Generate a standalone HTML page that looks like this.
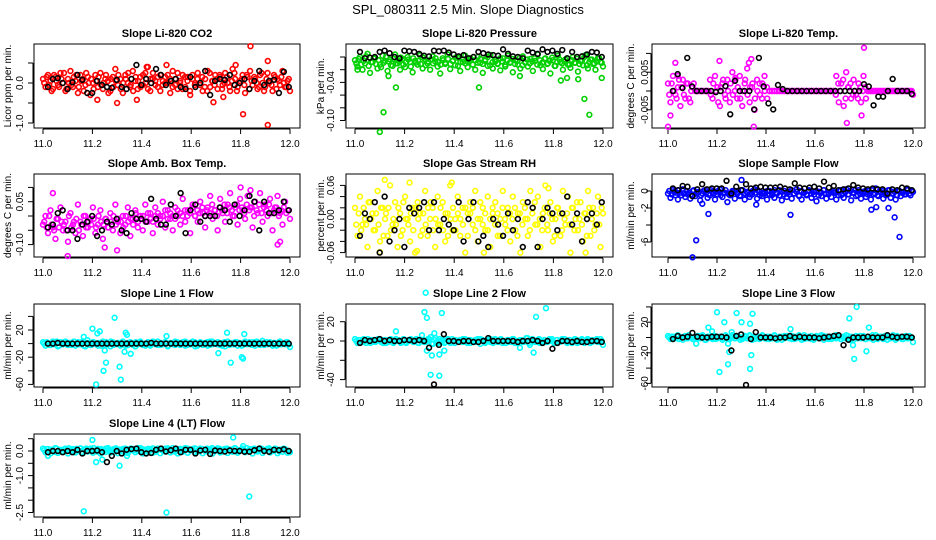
<!DOCTYPE html>
<html><head><meta charset="utf-8">
<style>
html,body{margin:0;padding:0;background:#fff;}
svg{display:block;font-family:"Liberation Sans",sans-serif;}
</style></head>
<body>
<svg id="chart" width="936" height="540" viewBox="0 0 936 540" xmlns="http://www.w3.org/2000/svg">
<text x="468" y="14" text-anchor="middle" font-size="13">SPL_080311  2.5 Min. Slope Diagnostics</text>
</svg>
<script>
// ---------- data (values in data units) ----------
const xTicks = [11.0, 11.2, 11.4, 11.6, 11.8, 12.0];
const xTickLabels = ["11.0", "11.2", "11.4", "11.6", "11.8", "12.0"];

const co2Main = [0.1,-0.1,0.2,0.05,-0.15,0.15,-0.05,0.25,0.0,-0.2,0.1,0.3,-0.1,0.05,-0.25,0.2,0.1,-0.05,0.15,-0.3,0.0,0.2,-0.1,0.25,-0.15,0.1,0.05,-0.2,0.15,0.35,-0.05,0.1,-0.25,0.2,0.0,-0.1,0.3,0.05,-0.15,0.15,-0.05,0.25,0.4,-0.2,0.1,0.05,-0.1,0.2,-0.05,0.15,0.0,-0.25,0.3,0.1,-0.15,0.05,0.2,-0.1,0.15,-0.3,0.1,0.0,0.25,-0.05,-0.2,0.1,0.3,-0.1,0.05,0.2,-0.15,0.15,-0.05,0.25,0.0,-0.2,0.35,0.1,-0.1,0.05,0.2,-0.25,0.15,0.3,-0.05,0.1,-0.15,0.2,0.0,-0.1,0.25,0.05,-0.2,0.15,0.1,-0.05,0.3,-0.1,0.05,-0.2];
const co2Main2 = [0.0,0.15,-0.05,-0.2,0.2,0.05,-0.1,0.1,0.25,-0.15,0.0,-0.05,0.15,0.2,-0.1,0.05,-0.2,0.25,0.0,0.1,-0.15,0.05,0.15,-0.05,0.0,0.2,-0.25,0.1,-0.1,0.05,0.2,-0.15,0.0,0.1,0.25,-0.05,-0.2,0.15,0.05,-0.1,0.2,0.0,-0.15,0.1,0.25,-0.05,0.15,-0.2,0.05,0.0,0.2,0.1,-0.1,-0.05,0.25,0.0,-0.15,0.15,0.05,-0.2,0.2,-0.05,0.1,0.0,0.15,-0.1,-0.2,0.25,0.05,-0.05,0.1,0.2,-0.15,0.0,0.15,-0.1,0.05,0.25,-0.2,0.0,0.1,-0.05,0.2,-0.15,0.05,0.15,0.0,-0.1,0.25,-0.2,0.1,0.0,-0.05,0.2,-0.15,0.05,0.15,0.0,-0.1,0.1];
const co2Black = [-0.1,0.1,0.12,0.0,-0.15,0.02,0.2,0.08,-0.25,-0.25,0.05,-0.05,-0.1,-0.12,0.08,-0.1,-0.15,0.1,0.45,-0.05,0.1,0.0,0.35,0.2,-0.05,0.05,0.1,-0.1,-0.15,0.15,-0.1,0.0,0.3,-0.3,0.05,0.1,0.08,0.2,-0.05,0.0,0.1,-0.15,0.05,0.3,-0.05,0.05,0.08,-0.25,0.28,-0.1];
const co2OutX = [11.84,11.91,11.81,11.91,11.30,11.22,11.38,11.69,11.73,11.5,11.42,11.78];
const co2OutY = [0.92,0.55,-0.78,-1.05,-0.5,-0.42,-0.42,-0.48,-0.35,0.45,0.4,0.45];

const presMain = [-0.005,-0.015,0.0,-0.02,-0.01,0.005,-0.025,-0.008,-0.002,-0.018,-0.012,0.002,-0.006,-0.022,-0.004,-0.014,0.004,-0.01,-0.02,-0.003,-0.016,0.0,-0.008,-0.024,-0.006,-0.012,0.003,-0.018,-0.004,-0.01,-0.02,0.001,-0.007,-0.015,-0.026,-0.002,-0.011,0.004,-0.019,-0.006,-0.013,-0.001,-0.022,-0.008,0.002,-0.016,-0.005,-0.012,-0.02,0.0,-0.009,-0.025,-0.004,-0.014,0.003,-0.018,-0.007,-0.011,-0.021,-0.002,-0.015,0.002,-0.008,-0.024,-0.005,-0.012,-0.018,0.001,-0.009,-0.015,-0.003,-0.022,-0.006,0.004,-0.013,-0.019,-0.002,-0.01,-0.026,-0.005,-0.014,0.002,-0.008,-0.02,-0.004,-0.012,-0.017,0.0,-0.009,-0.023,-0.006,-0.013,0.003,-0.018,-0.004,-0.011,-0.02,-0.002,-0.008,-0.015];
const presMain2 = [-0.01,-0.003,-0.012,-0.006,0.001,-0.014,-0.008,-0.002,-0.011,-0.005,-0.016,-0.009,0.0,-0.007,-0.013,-0.003,-0.01,-0.006,-0.001,-0.012,-0.008,-0.004,-0.015,-0.002,-0.009,-0.006,-0.011,-0.001,-0.013,-0.007,-0.004,-0.01,-0.002,-0.008,-0.012,-0.005,-0.009,-0.003,-0.011,-0.006,-0.001,-0.014,-0.008,-0.004,-0.01,-0.007,-0.002,-0.012,-0.005,-0.009,-0.003,-0.011,-0.006,0.0,-0.013,-0.008,-0.004,-0.01,-0.002,-0.007,-0.012,-0.005,-0.009,-0.003,-0.011,-0.006,-0.001,-0.013,-0.008,-0.004,-0.01,-0.007,-0.002,-0.012,-0.005,-0.009,-0.003,-0.011,-0.006,-0.001,-0.014,-0.008,-0.004,-0.01,-0.007,-0.002,-0.012,-0.005,-0.009,-0.003,-0.011,-0.006,0.0,-0.013,-0.008,-0.004,-0.01,-0.007,-0.002,-0.009];
const presBlack = [0.008,-0.002,-0.001,0.0,0.008,0.01,0.006,0.0,-0.002,0.01,0.009,0.008,0.005,0.002,0.001,0.01,0.009,0.01,0.007,0.004,0.001,0.003,-0.002,0.0,0.008,0.006,0.004,0.003,0.002,0.012,0.005,0.001,0.0,-0.002,0.01,0.007,0.005,0.012,0.008,0.01,0.005,0.011,-0.002,0.008,0.0,0.001,0.004,0.008,0.007,0.0];
const presOutX = [11.10,11.115,11.165,11.5,11.925,11.945,11.83,11.855,11.9,11.135,11.665,11.995,11.01];
const presOutY = [-0.118,-0.087,-0.048,-0.048,-0.066,-0.091,-0.037,-0.033,-0.035,-0.03,-0.03,-0.033,-0.02];

const ltMain = [0.002,-0.003,0.004,-0.001,0.001,-0.004,0.003,-0.002,0.002,-0.003,0.001,0,0,0,0,0,0,0.003,-0.002,0.004,0.001,-0.004,0.002,-0.001,0.003,-0.003,0.005,0.0,-0.002,0.004,-0.004,0.002,0.006,-0.003,0.001,-0.005,0.003,0.002,-0.002,0.004,0.001,0,0,0,0,0,0,0,0,0,0,0,0,0,0,0,0,0,0,0,0,0,0,0,0,0,0,0,0.004,-0.003,0.002,-0.004,0.005,0.001,-0.002,0.003,-0.001,0.002,-0.003,0.004,-0.002,0,0,0,0,0,0,0,0,0,0,0,0,0,0,0,0,0,0,-0.001];
const ltMain2 = [-0.001,0.002,0.0,-0.002,0.003,0.001,-0.001,0.002,-0.002,0.0,0.002,0,0,0,0,0,0,-0.001,0.002,0.0,-0.003,0.001,0.003,-0.002,0.0,0.002,-0.001,0.003,0.001,-0.002,0.0,0.003,-0.001,0.001,0.002,-0.002,0.0,-0.001,0.002,0.0,-0.002,0,0,0,0,0,0,0,0,0,0,0,0,0,0,0,0,0,0,0,0,0,0,0,0,0,0,0,-0.001,0.002,0.0,0.003,-0.002,0.001,0.002,-0.001,0.0,-0.002,0.001,0.0,0.001,0,0,0,0,0,0,0,0,0,0,0,0,0,0,0,0,0,0,0];
const ltBlack = [0,0.0045,0.0008,0.0088,0.0012,0,0,0,0,-0.0003,0,0.0013,-0.0062,0.0027,0,0,0,-0.0049,0.0088,0.0012,-0.0033,-0.0049,0.0016,0.0005,0,0,0,0,0,0,0,0,0,0,0,0,0,0,0,0,0.0018,0.0012,-0.0038,-0.0015,-0.0015,0,0.0032,0,0,0,-0.0008];
const ltOutX = [11.0,11.8,11.35,11.73,11.21,11.34,11.03,11.01,11.33,11.275,11.79,11.04];
const ltOutY = [-0.0095,0.0115,-0.0095,-0.0085,0.008,0.0085,0.0075,-0.0065,0.0075,0.0035,-0.0065,0.004];

const ambMain = [-0.03,0.0,-0.06,0.02,-0.04,-0.08,-0.01,0.03,-0.05,-0.02,-0.09,0.01,-0.03,-0.06,0.04,-0.02,-0.07,0.0,-0.04,-0.01,0.03,-0.06,-0.03,0.02,-0.08,-0.01,-0.04,0.01,-0.05,0.04,-0.02,-0.06,0.0,-0.03,0.03,-0.07,-0.01,0.02,-0.04,0.0,-0.05,0.04,-0.02,0.01,-0.06,0.03,-0.03,0.0,0.05,-0.04,0.02,-0.01,-0.05,0.03,0.0,-0.03,0.06,-0.02,0.02,-0.06,0.04,0.0,-0.02,0.05,0.01,-0.04,0.03,0.07,-0.01,0.02,-0.05,0.06,0.01,-0.02,0.04,0.08,0.0,0.03,-0.03,0.06,0.02,-0.01,0.07,0.03,-0.04,0.05,0.01,0.08,-0.02,0.04,0.0,0.06,-0.05,0.03,0.07,0.01,-0.03,0.05,0.02,-0.01];
const ambMain2 = [-0.02,-0.04,0.0,-0.03,-0.05,-0.01,-0.04,-0.02,-0.03,-0.05,0.0,-0.04,-0.02,-0.01,-0.05,-0.03,0.0,-0.04,-0.02,-0.03,-0.01,-0.04,0.0,-0.02,-0.03,-0.01,-0.04,-0.02,0.0,-0.03,-0.01,-0.02,-0.04,0.0,-0.02,-0.01,-0.03,0.01,-0.02,-0.01,0.0,-0.02,0.01,-0.01,-0.02,0.0,0.01,-0.01,0.0,0.02,-0.01,0.01,0.0,-0.01,0.02,0.01,0.0,0.02,0.0,0.01,0.03,0.0,0.02,0.01,0.03,0.0,0.02,0.01,0.04,0.02,0.0,0.03,0.02,0.04,0.01,0.03,0.02,0.0,0.04,0.02,0.03,0.01,0.04,0.02,0.03,0.0,0.02,0.04,0.01,0.03,0.02,0.04,0.01,0.02,0.03,0.0,0.02,0.03,0.01,0.02];
const ambBlack = [-0.04,-0.03,0.01,0.02,-0.05,-0.05,-0.08,-0.03,-0.02,0.0,-0.07,-0.05,-0.02,-0.03,-0.01,-0.05,-0.06,0.01,-0.01,-0.01,-0.02,0.06,-0.01,-0.03,-0.03,0.04,0.0,0.08,-0.06,0.02,0.04,-0.02,0.0,0.0,0.0,0.03,0.02,-0.02,0.04,0.0,0.02,0.07,0.05,-0.05,0.05,0.01,0.01,0.02,0.05,0.02];
const ambOutX = [11.1,11.3,11.25,11.8,11.84,11.95,11.96,11.04];
const ambOutY = [-0.14,-0.12,-0.11,0.1,0.09,-0.1,-0.09,0.08];

const rhMain = [0.02,-0.03,0.04,-0.01,0.0,-0.05,0.03,0.01,-0.02,0.05,-0.04,0.02,0.0,-0.03,0.06,-0.01,0.03,-0.05,0.01,-0.02,0.04,0.0,-0.04,0.02,-0.06,0.03,0.01,-0.02,0.05,-0.03,0.0,0.02,-0.05,0.04,-0.01,0.03,-0.04,0.01,0.06,-0.02,0.0,0.04,-0.03,0.02,-0.06,0.01,0.03,-0.01,0.05,-0.04,0.0,0.02,-0.02,0.04,-0.05,0.01,0.03,-0.03,0.0,0.05,-0.01,0.02,-0.04,0.04,-0.02,0.01,-0.06,0.03,0.0,-0.03,0.05,0.02,-0.01,0.04,-0.05,0.01,0.06,-0.02,0.03,-0.04,0.0,0.02,-0.03,0.05,-0.01,0.04,-0.06,0.02,0.0,-0.02,0.03,-0.04,0.01,0.05,-0.03,0.02,-0.01,0.04,-0.05,0.01];
const rhMain2 = [-0.01,0.01,-0.02,0.02,-0.01,0.03,0.0,-0.02,0.01,-0.01,0.02,-0.03,0.01,0.02,-0.02,0.0,-0.01,0.02,-0.03,0.03,0.0,-0.01,0.01,-0.02,0.02,0.0,-0.03,0.01,-0.01,0.02,0.03,-0.02,0.0,-0.01,0.02,-0.02,0.01,-0.03,0.0,0.02,-0.02,0.01,0.0,-0.01,0.02,-0.03,0.01,0.02,-0.02,0.0,0.03,-0.01,0.01,-0.02,0.0,0.02,-0.01,0.01,-0.03,0.02,0.0,-0.02,0.01,0.0,0.02,-0.03,0.01,-0.01,0.02,0.0,-0.02,0.01,0.03,-0.01,0.0,-0.02,0.02,-0.01,0.01,0.0,-0.03,0.02,0.01,-0.02,0.0,0.01,-0.01,0.02,-0.02,0.03,0.0,-0.01,0.01,-0.03,0.02,0.0,-0.02,0.01,-0.01,0.02];
const rhBlack = [-0.03,0.01,0.0,0.03,-0.06,0.04,-0.04,-0.02,0.0,-0.05,0.02,0.01,0.02,0.03,-0.02,0.03,-0.02,0.0,-0.01,-0.02,0.03,-0.04,0.0,0.03,-0.04,-0.03,-0.05,0.0,-0.01,-0.03,0.01,-0.02,0.0,-0.05,0.03,0.02,-0.05,0.0,0.02,0.01,-0.02,0.01,0.04,-0.01,0.01,-0.04,0.0,0.01,-0.01,0.03];
const rhOutX = [11.12,11.22,11.39,11.25,11.93,11.1,11.78,11.52];
const rhOutY = [0.07,0.065,0.065,-0.057,-0.06,-0.059,0.055,-0.06];

const sfMain = [-0.3,-0.8,0.1,-0.5,-1.0,-0.2,0.2,-0.7,-0.4,-0.9,0.0,-0.6,-0.2,-1.1,-0.3,0.1,-0.8,-0.5,-0.1,-1.0,-0.4,0.2,-0.7,-0.2,-1.3,-0.5,0.0,-0.9,-0.3,-0.6,0.1,-1.0,-0.2,-0.7,-0.4,0.2,-0.9,-0.1,-0.6,-0.3,-1.0,0.0,-0.5,-0.8,-0.2,0.1,-1.1,-0.4,-0.7,-0.1,-0.9,-0.3,0.2,-0.6,-1.0,-0.2,-0.5,0.0,-0.8,-0.4,-1.2,-0.1,-0.6,0.1,-0.9,-0.3,-0.7,-0.2,-1.0,0.0,-0.5,-0.8,0.2,-0.4,-1.1,-0.2,-0.6,0.1,-0.9,-0.3,-0.7,0.0,-1.0,-0.4,0.3,-0.6,-0.2,-0.9,-0.5,0.1,-0.8,-0.3,-1.0,0.0,-0.6,-0.2,-0.4,0.2,-0.5,-0.1];
const sfMain2 = [0.0,-0.4,-0.1,-0.2,0.1,-0.5,-0.3,0.0,-0.2,-0.4,0.1,-0.3,-0.1,-0.5,0.0,-0.2,-0.4,0.1,-0.3,-0.1,0.0,-0.5,-0.2,0.1,-0.3,-0.4,-0.1,0.0,-0.2,-0.5,0.1,-0.3,-0.1,-0.4,0.0,-0.2,0.1,-0.5,-0.3,-0.1,0.0,-0.4,-0.2,0.1,-0.3,-0.5,-0.1,0.0,-0.2,-0.4,0.1,-0.3,-0.1,-0.5,0.0,-0.2,-0.4,0.1,-0.3,-0.1,0.0,-0.5,-0.2,0.1,-0.3,-0.4,-0.1,0.0,-0.2,-0.5,0.1,-0.3,-0.1,-0.4,0.0,-0.2,0.1,-0.5,-0.3,-0.1,0.0,-0.4,-0.2,0.1,-0.3,-0.5,-0.1,0.0,-0.2,-0.4,0.1,-0.3,-0.1,-0.5,0.0,-0.2,-0.4,0.1,-0.3,0.0];
const sfBlack = [0.3,0.1,0.6,0.5,-0.6,0.2,0.8,0.2,0.3,0.3,0.3,1.2,-0.3,0.5,0.1,0.8,0.3,0.4,0.5,0.4,0.4,0.4,0.5,0.3,0.2,0.9,0.4,0.3,0.4,0.5,0.3,1.1,0.4,0.6,0.1,0.2,0.3,0.7,0.4,0.3,0.2,0.3,0.2,0.2,-0.3,0.2,0.1,0.4,0.3,0.1];
const sfOutX = [11.10,11.115,11.165,11.5,11.83,11.85,11.9,11.925,11.945,11.3,11.14,11.36];
const sfOutY = [-7.8,-5.8,-2.7,-2.8,-2.2,-1.9,-2.0,-3.1,-5.4,1.3,-1.5,-1.6];

const l1Main = [2,-3,1,-2,3,0,-4,2,-1,3,-2,1,0,-3,2,-1,3,-4,1,-2,2,0,-3,1,3,-2,0,-4,2,-1,1,-3,3,0,-2,2,-1,-4,1,3,-2,0,2,-3,1,-1,3,-2,0,2,-4,1,-1,3,0,-2,2,-3,1,-1,3,-4,0,2,-2,1,-3,3,-1,0,2,-2,1,-4,3,0,-1,2,-3,1,-2,3,0,-1,2,-3,1,-2,4,0,-1,2,-3,1,-2,3,0,-1,2,-5];
const l1Main2 = [0,2,-2,1,-1,3,-3,0,2,-1,1,-2,3,0,-1,2,-3,1,0,-2,2,-1,1,-3,0,2,-1,3,-2,0,1,-1,2,-3,1,0,-2,2,-1,1,0,-3,2,-1,3,0,-2,1,-1,2,-3,0,1,-2,2,-1,0,3,-2,1,-1,2,-3,0,1,-1,2,-2,3,0,-1,1,-3,2,0,-2,1,-1,2,0,-3,1,-1,2,-2,0,3,-1,1,-2,2,0,-1,1,-3,2,-1,0,2,-1];
const l1Black = [0,0,1,0,0,0,0,0,0,0,0,0,0,0,0,0,0,0,0,0,0,1,0,0,0,0,0,0,0,0,0,0,0,0,0,0,0,0,0,0,0,0,0,0,0,0,0,0,0,0];
const l1OutX = [11.29,11.2,11.22,11.23,11.165,11.25,11.255,11.245,11.215,11.31,11.315,11.335,11.34,11.355,11.50,11.745,11.815,11.76,11.805,11.81,11.71,11.18,11.33];
const l1OutY = [38,22,15,18,10,-10,-28,-40,-60,-34,-53,16,13,-15,11,16,14,-28,-20,-22,-14,5,-12];

const l2Main = [2,-2,1,-1,0,2,-2,1,-1,2,0,-2,1,-1,2,-2,0,1,-1,2,-2,1,0,-1,2,-2,1,-1,0,2,-3,1,-1,2,0,-2,1,-1,2,-2,0,1,-1,2,-2,1,0,-1,2,-3,1,-1,0,2,-2,1,-1,2,0,-2,1,-1,2,-2,0,1,-1,3,-2,1,0,-1,2,-2,1,-1,0,2,-2,1,-1,2,0,-2,1,-1,2,-2,0,1,-1,2,-2,1,0,-1,2,-4];
const l2Main2 = [0,1,-1,2,-2,0,1,-1,0,2,-1,1,-2,0,1,-1,2,0,-2,1,-1,0,2,-1,1,-2,0,1,-1,2,4,-3,3,-2,0,1,-1,2,-2,0,1,-1,0,2,-1,1,-2,0,1,-1,2,0,-2,1,-1,0,2,-1,1,-2,0,1,-1,2,-2,0,1,-1,0,3,-4,2,-1,1,-2,0,1,-1,2,0,-2,1,-1,0,2,-1,1,-2,0,1,-1,2,-2,0,1,-1,0,2,-1,0];
const l2Black = [-2,1,0,1,2,0,1,0,0,1,1,0,1,0,-7,-45,-4,7,0,0,-1,0,0,-1,-1,0,3,0,0,0,0,0,-1,0,0,1,0,-2,0,-8,-2,0,0,-1,0,-1,-1,0,0,-1];
const l2OutX = [11.285,11.28,11.29,11.35,11.165,11.29,11.31,11.34,11.305,11.34,11.36,11.73,11.77,11.72,11.665,11.27,11.32];
const l2OutY = [50,30,24,29,10,-10,-15,-14,-35,-36,-10,25,34,-12,-7,6,8];

const l3Main = [2,-2,1,-1,3,0,-3,2,-1,1,-2,0,2,-1,3,-3,1,0,-2,2,-1,1,-3,2,0,-2,3,-1,1,0,-2,2,-1,3,-3,1,0,-2,2,-1,1,-2,0,3,-1,1,-3,2,0,-1,2,-2,1,0,-3,3,-1,1,-2,0,2,-1,3,-3,1,0,-2,2,-1,1,-2,0,3,-1,1,-3,2,0,-1,2,-2,1,0,-3,3,-1,1,-2,0,2,-1,3,-3,1,0,-2,2,-1,1,-6];
const l3Main2 = [0,1,-1,2,-2,0,1,-1,3,0,-2,1,-1,2,0,-3,1,-1,2,-2,0,1,-1,3,-2,0,1,-1,2,-3,0,1,-1,2,0,-2,1,-1,3,0,-2,1,-1,2,-3,0,1,-1,2,0,-2,1,-1,3,0,-2,1,-1,2,-3,0,1,-1,2,0,-2,1,-1,3,0,-2,1,-1,2,-3,0,1,-1,2,0,-2,1,-1,3,0,-2,1,-1,2,-3,0,1,-1,2,0,-2,1,-1,2,0];
const l3Black = [-2,2,0,1,6,1,0,0,1,1,1,0,-17,2,4,-62,-2,7,0,0,0,-1,0,0,2,0,1,0,0,0,-1,0,1,2,3,-10,-3,0,0,0,1,0,0,0,3,1,0,1,1,0];
const l3OutX = [11.2,11.21,11.245,11.23,11.28,11.26,11.245,11.25,11.3,11.335,11.34,11.335,11.345,11.165,11.5,11.74,11.77,11.76,11.81,11.82,11.755,11.115,11.18];
const l3OutY = [33,-45,-35,20,32,7,-8,-19,20,18,-23,-41,31,13,11,25,40,-28,-18,13,-10,-8,8];

const l4Main = [0.1,-0.05,0.08,-0.1,0.0,0.12,-0.08,0.05,-0.03,0.1,-0.1,0.03,0.08,-0.06,0.0,0.11,-0.09,0.05,-0.02,0.1,-0.07,0.02,0.09,-0.1,0.04,-0.04,0.12,-0.06,0.0,0.08,-0.09,0.06,-0.02,0.1,-0.08,0.03,0.09,-0.05,0.0,0.12,-0.1,0.05,-0.03,0.08,-0.07,0.02,0.1,-0.09,0.04,-0.02,0.11,-0.06,0.0,0.08,-0.1,0.05,-0.03,0.12,-0.07,0.02,0.09,-0.05,0.0,0.1,-0.09,0.06,-0.02,0.08,-0.1,0.03,0.11,-0.06,0.0,0.09,-0.08,0.05,-0.03,0.12,-0.07,0.02,0.1,-0.05,0.0,0.08,-0.1,0.05,-0.02,0.11,-0.08,0.03,0.09,-0.06,0.0,0.1,-0.09,0.05,-0.03,0.08,-0.07,-0.05];
const l4Main2 = [0.04,0.08,0.0,0.06,-0.04,0.1,0.02,-0.02,0.07,0.03,0.11,-0.03,0.05,0.09,0.01,-0.05,0.06,0.1,0.0,0.04,0.12,-0.02,0.05,0.08,0.0,0.1,0.03,-0.04,0.07,0.11,0.01,0.05,0.09,-0.03,0.06,0.1,0.02,0.04,0.12,-0.02,0.07,0.0,0.09,0.03,0.11,-0.04,0.05,0.08,0.01,0.1,0.03,0.06,0.12,-0.03,0.04,0.09,0.0,0.07,0.1,0.02,0.05,0.11,-0.02,0.06,0.08,0.01,0.1,0.04,0.12,0.0,0.05,0.09,-0.03,0.07,0.1,0.02,0.06,0.11,0.0,0.04,0.08,0.03,0.12,-0.02,0.06,0.1,0.01,0.05,0.09,0.0,0.07,0.11,0.02,0.04,0.08,0.0,0.06,0.1,0.03,0.0];
const l4Black = [-0.05,0.0,0.0,-0.05,0.0,-0.05,0.05,-0.1,0.0,0.0,0.02,-0.05,-0.45,-0.2,0.0,-0.1,0.05,0.08,0.1,-0.05,-0.1,-0.08,0.05,0.1,-0.02,0.03,0.1,-0.05,0.05,0.05,-0.1,0.02,0.05,-0.12,0.02,0.0,-0.02,0.02,0.0,0.0,-0.03,-0.03,0.03,0.1,0.0,-0.03,0.05,0.03,0.07,0.0];
const l4OutX = [11.165,11.2,11.215,11.24,11.31,11.5,11.77,11.835,11.02,11.34,11.81];
const l4OutY = [-2.45,0.45,-0.45,-0.35,-0.6,-2.5,0.55,-1.85,-0.2,-0.2,0.2];

// ---------- layout (geometry only) ----------
const cols = [{l:34,r:300,xa:43,xb:290,lab:11,tk:23},{l:346,r:613,xa:355,xb:603,lab:324,tk:334},{l:652,r:925,xa:668,xb:913,lab:634,tk:648}];
const rows = [{t:44,b:128},{t:174,b:257},{t:304,b:387},{t:434,b:517}];

const panels = [
 {name:"co2",title:"Slope Li-820 CO2",ylab:"Licor ppm per min.",c:0,r:0,y0:83,k:40,ticks:[-1,-0.5,0,0.5],tl:["-1.0","","0.0",""],col:"#ff0000",main:co2Main,main2:co2Main2,black:co2Black,ox:co2OutX,oy:co2OutY},
 {name:"pressure",title:"Slope Li-820 Pressure",ylab:"kPa per min.",c:1,r:0,y0:57,k:635,ticks:[0,-0.02,-0.04,-0.06,-0.08,-0.1],tl:["","","-0.04","","","-0.10"],col:"#00d000",main:presMain,main2:presMain2,black:presBlack,ox:presOutX,oy:presOutY},
 {name:"li-temp",title:"Slope Li-820 Temp.",ylab:"degrees C per min.",c:2,r:0,y0:91,k:3760,ticks:[0.01,0.005,0,-0.005],tl:["","0.005","","-0.005"],col:"#ff00ff",main:ltMain,main2:ltMain2,black:ltBlack,ox:ltOutX,oy:ltOutY},
 {name:"amb-box-temp",title:"Slope Amb. Box Temp.",ylab:"degrees C per min.",c:0,r:1,y0:216,k:286,ticks:[0.1,0.05,0,-0.05,-0.1],tl:["","0.05","","","-0.10"],col:"#ff00ff",main:ambMain,main2:ambMain2,black:ambBlack,ox:ambOutX,oy:ambOutY},
 {name:"gas-rh",title:"Slope Gas Stream RH",ylab:"percent per min.",c:1,r:1,y0:219,k:560,ticks:[0.06,0.04,0.02,0,-0.02,-0.04,-0.06],tl:["0.06","","","0.00","","","-0.06"],col:"#ffff00",main:rhMain,main2:rhMain2,black:rhBlack,ox:rhOutX,oy:rhOutY},
 {name:"sample-flow",title:"Slope Sample Flow",ylab:"ml/min per min.",c:2,r:1,y0:191,k:8.5,ticks:[0,-2,-4,-6],tl:["0","-2","","-6"],col:"#0000ff",main:sfMain,main2:sfMain2,black:sfBlack,ox:sfOutX,oy:sfOutY},
 {name:"line1-flow",title:"Slope Line 1 Flow",ylab:"ml/min per min.",c:0,r:2,y0:343.6,k:0.68,ticks:[40,20,0,-20,-40,-60],tl:["","20","","-20","","-60"],col:"#00ffff",main:l1Main,main2:l1Main2,black:l1Black,ox:l1OutX,oy:l1OutY},
 {name:"line2-flow",title:"Slope Line 2 Flow",ylab:"ml/min per min.",c:1,r:2,y0:341,k:0.965,ticks:[20,0,-20,-40],tl:["20","0","","-40"],col:"#00ffff",main:l2Main,main2:l2Main2,black:l2Black,ox:l2OutX,oy:l2OutY},
 {name:"line3-flow",title:"Slope Line 3 Flow",ylab:"ml/min per min.",c:2,r:2,y0:337.5,k:0.765,ticks:[40,20,0,-20,-40,-60],tl:["","20","","-20","","-60"],col:"#00ffff",main:l3Main,main2:l3Main2,black:l3Black,ox:l3OutX,oy:l3OutY},
 {name:"line4-flow",title:"Slope Line 4 (LT) Flow",ylab:"ml/min per min.",c:0,r:3,y0:451,k:24.6,ticks:[0.5,0,-0.5,-1,-1.5,-2,-2.5],tl:["","0.0","","-1.0","","","-2.5"],col:"#00ffff",main:l4Main,main2:l4Main2,black:l4Black,ox:l4OutX,oy:l4OutY}
];

const NS = "http://www.w3.org/2000/svg";
const svg = document.getElementById("chart");
function mk(tag, attrs, parent){
  const e = document.createElementNS(NS, tag);
  for (const k in attrs) e.setAttribute(k, attrs[k]);
  parent.appendChild(e);
  return e;
}

panels.forEach(function(p){
  const C = cols[p.c], R = rows[p.r];
  const xs = function(t){ return C.xa + (t - 11.0) * (C.xb - C.xa); };
  const ys = function(v){ return p.y0 - v * p.k; };
  const g = mk("g", {}, svg);
  
  

  const title = mk("text", {x:(C.l+C.r)/2, y:R.t-7, "text-anchor":"middle", "font-size":"11", "font-weight":"bold"}, g);
  title.textContent = p.title;
  
  

  const my = (R.t+R.b)/2;
  const yl = mk("text", {x:C.lab, y:my, "text-anchor":"middle", "font-size":"10", transform:"rotate(-90 "+C.lab+" "+my+")"}, g);
  yl.textContent = p.ylab;
  
  

  const box = mk("rect", {x:C.l, y:R.t, width:C.r-C.l, height:R.b-R.t, fill:"none", stroke:"#000", "stroke-width":"1"}, g);
  
  

  const xa = mk("g", {}, g);
  
  
  mk("line", {x1:xs(11.0), x2:xs(12.0), y1:R.b+1, y2:R.b+1, stroke:"#000"}, xa);
  xTicks.forEach(function(t, i){
    mk("line", {x1:xs(t), x2:xs(t), y1:R.b+1, y2:R.b+6, stroke:"#000"}, xa);
    const lt = mk("text", {x:xs(t), y:R.b+19, "text-anchor":"middle", "font-size":"10"}, xa);
    lt.textContent = xTickLabels[i];
    
    
  });

  const ya = mk("g", {}, g);
  
  
  mk("line", {x1:C.l-1, x2:C.l-1, y1:ys(p.ticks[0]), y2:ys(p.ticks[p.ticks.length-1]), stroke:"#000"}, ya);
  p.ticks.forEach(function(v, i){
    mk("line", {x1:C.l-6, x2:C.l-1, y1:ys(v), y2:ys(v), stroke:"#000"}, ya);
    if (p.tl[i]) {
      const tx = C.tk;
      const lt = mk("text", {x:tx, y:ys(v), "text-anchor":"middle", "font-size":"10", transform:"rotate(-90 "+tx+" "+ys(v)+")"}, ya);
      lt.textContent = p.tl[i];
      
      
    }
  });

  const gm = mk("g", {fill:"none", stroke:p.col, "stroke-width":"1.6"}, g);
  
  
  const n = p.main.length;
  p.main.forEach(function(v, i){
    const c = mk("circle", {cx:xs(11.0 + i/(n-1)), cy:ys(v), r:2.4}, gm);
    
    
  });
  const n2 = p.main2.length;
  p.main2.forEach(function(v, i){
    const c = mk("circle", {cx:xs(11.005 + 0.99*i/(n2-1)), cy:ys(v), r:2.4}, gm);
    
    
  });
  p.ox.forEach(function(t, i){
    const c = mk("circle", {cx:xs(t), cy:ys(p.oy[i]), r:2.4}, gm);
    
    
  });

  const gb = mk("g", {fill:"none", stroke:"#000", "stroke-width":"1.6"}, g);
  
  
  const nb = p.black.length;
  p.black.forEach(function(v, i){
    const c = mk("circle", {cx:xs(11.02 + 0.975*i/(nb-1)), cy:ys(v), r:2.4}, gb);
    
    
  });
});
</script>
</body></html>
